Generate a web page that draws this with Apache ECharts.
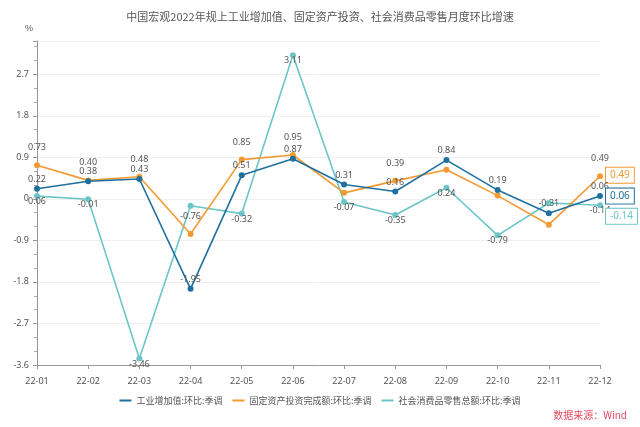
<!DOCTYPE html>
<html>
<head>
<meta charset="utf-8">
<script src="https://cdn.jsdelivr.net/npm/echarts@6/dist/echarts.min.js"></script>
<style>
  html, body { margin: 0; padding: 0; background: #fff; }
  #chart { width: 640px; height: 427px; }
</style>
</head>
<body>
<div id="chart"></div>
<script>
// months on the x axis
let months = ["22-01", "22-02", "22-03", "22-04", "22-05", "22-06",
              "22-07", "22-08", "22-09", "22-10", "22-11", "22-12"];

// 工业增加值:环比:季调
let industry = [0.22, 0.38, 0.43, -1.95, 0.51, 0.87, 0.31, 0.16, 0.84, 0.19, -0.31, 0.06];
// 固定资产投资完成额:环比:季调
let investment = [0.73, 0.40, 0.48, -0.76, 0.85, 0.95, 0.13, 0.39, 0.63, 0.07, -0.56, 0.49];
// 社会消费品零售总额:环比:季调
let retail = [0.06, -0.01, -3.46, -0.15, -0.32, 3.11, -0.07, -0.35, 0.24, -0.79, -0.09, -0.14];

let series_names = ["工业增加值:环比:季调", "固定资产投资完成额:环比:季调", "社会消费品零售总额:环比:季调"];
let series_colors = ["#1f6f9f", "#f39a32", "#6cc6c8"];

// point labels that are hidden in the original (overlaps)
let hidden_labels = [[], [6, 8, 9, 10], [3, 10]];

let y_ticks = { min: -3.6, max: 3.42, interval: 0.9 };

function build_data(values, hidden) {
    return values.map(function (v, i) {
        if (hidden.indexOf(i) !== -1) {
            return { value: v, label: { show: false } };
        }
        return v;
    });
}

function two_dec(p) {
    let v = Array.isArray(p.value) ? p.value[1] : p.value;
    return Number(v).toFixed(2);
}

function make_series(idx, values, label_cfg, end_offset) {
    let color = series_colors[idx];
    return {
        name: series_names[idx],
        type: "line",
        xAxisIndex: 1,
        data: build_data(values, hidden_labels[idx]),
        symbol: "circle",
        symbolSize: 6,
        lineStyle: { width: 1.6, color: color },
        itemStyle: { color: color },
        label: Object.assign({
            show: true,
            fontSize: 9,
            color: "#555",
            fontFamily: "Noto Sans",
            formatter: two_dec
        }, label_cfg),
        endLabel: {
            show: true,
            formatter: two_dec,
            color: color,
            fontSize: 10,
            fontFamily: "Noto Sans",
            backgroundColor: "#fff",
            borderColor: color,
            borderWidth: 1,
            padding: [3, 4, 2, 4],
            distance: 6,
            offset: end_offset
        },
        z: 3 - idx
    };
}

let chart = echarts.init(document.getElementById("chart"));

let option = {
    animation: false,
    backgroundColor: "#fff",
    title: [
        {
            text: "中国宏观2022年规上工业增加值、固定资产投资、社会消费品零售月度环比增速",
            left: "center",
            top: 6,
            textStyle: { fontSize: 11, fontWeight: "normal", color: "#555", fontFamily: "Noto Sans CJK SC" }
        },
        {
            text: "数据来源：Wind",
            right: 8,
            top: 405,
            textStyle: { fontSize: 10, fontWeight: "normal", color: "#e2485c", fontFamily: "Noto Sans CJK SC" }
        }
    ],
    legend: {
        bottom: 17,
        left: "center",
        icon: "rect",
        itemWidth: 12,
        itemHeight: 2,
        itemGap: 10,
        textStyle: { fontSize: 9, color: "#555", fontFamily: "Noto Sans CJK SC" },
        data: series_names
    },
    grid: { left: 37, right: 40, top: 41, bottom: 62 },
    xAxis: [
        {
            type: "category",
            data: months,
            boundaryGap: false,
            position: "bottom",
            axisLine: { show: false },
            axisTick: { show: false },
            axisLabel: { fontSize: 9, color: "#555", margin: 12, fontFamily: "Noto Sans" }
        },
        {
            type: "category",
            data: months,
            boundaryGap: false,
            position: "bottom",
            axisLine: { show: true, onZero: true, lineStyle: { color: "#999", width: 1 } },
            axisTick: { show: true, length: 4, lineStyle: { color: "#999" } },
            minorTick: { show: true, splitNumber: 2, length: 3, lineStyle: { color: "#aaa" } },
            axisLabel: { show: false }
        }
    ],
    yAxis: {
        type: "value",
        name: "%",
        nameGap: 8,
        nameTextStyle: { fontSize: 9, color: "#555", align: "right", padding: [0, 4, 0, 0] },
        min: y_ticks.min,
        max: y_ticks.max,
        interval: y_ticks.interval,
        axisLine: { show: true, lineStyle: { color: "#999" } },
        axisTick: { show: true, length: 4, lineStyle: { color: "#999" } },
        minorTick: { show: true, splitNumber: 3, length: 3, lineStyle: { color: "#aaa" } },
        axisLabel: {
            fontSize: 9,
            color: "#555",
            showMaxLabel: false,
            fontFamily: "Noto Sans",
            formatter: function (v) { return v === 0 ? "0" : v.toFixed(1); }
        },
        splitLine: { show: true, lineStyle: { color: "#f0f0f0" } }
    },
    series: [
        make_series(0, industry, { position: "top", distance: 2 }, [0, 0]),
        make_series(1, investment, { position: "top", distance: 10 }, [0, -1]),
        make_series(2, retail, { position: "bottom", distance: -2 }, [0, 11])
    ]
};

chart.setOption(option);
</script>
</body>
</html>
